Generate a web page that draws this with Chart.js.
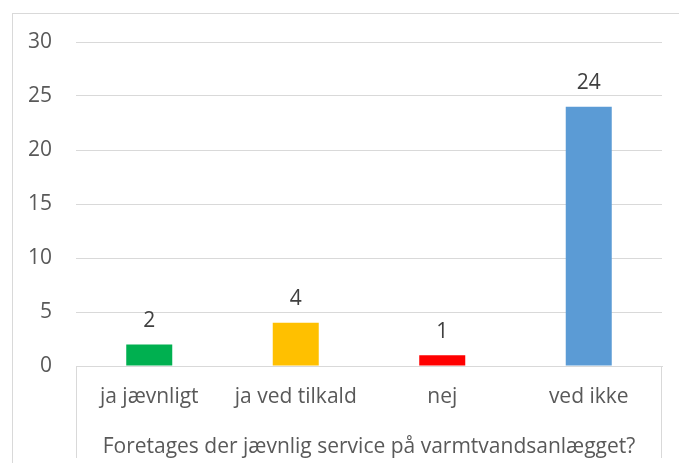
<!DOCTYPE html>
<html>
<head>
<meta charset="utf-8">
<script src="https://cdn.jsdelivr.net/npm/chart.js@4"></script>
<style>
  html, body { margin: 0; padding: 0; background: #fff; overflow: hidden; }
  #wrap { position: relative; width: 679px; height: 463px; }
  #frame { position: absolute; left: 12px; top: 13px; width: 720px; height: 500px; border: 1px solid #d9d9d9; box-sizing: border-box; }
  canvas { position: absolute; left: 0; top: 0; }
</style>
</head>
<body>
<div id="wrap">
  <div id="frame"></div>
  <canvas id="chart" width="679" height="463"></canvas>
</div>
<script>
// data
const categories = ['ja jævnligt', 'ja ved tilkald', 'nej', 'ved ikke'];
const counts = [2, 4, 1, 24];
const barColors = ['#00B050', '#FFC000', '#FF0000', '#5B9BD5'];
const axisTitle = 'Foretages der jævnlig service på varmtvandsanlægget?';
const yMax = 30;
const yStep = 5;

const FONT = "'Open Sans', sans-serif";

// labels over the bars, plus the box lines under the category axis
const extras = {
  id: 'extras',
  afterDatasetsDraw(chart) {
    const ctx = chart.ctx;
    const meta = chart.getDatasetMeta(0);
    ctx.save();
    ctx.fillStyle = '#404040';
    ctx.font = '21px ' + FONT;
    ctx.textAlign = 'center';
    ctx.textBaseline = 'bottom';
    meta.data.forEach((bar, i) => {
      ctx.fillText(String(counts[i]), bar.x, bar.y - 13);
    });
    ctx.restore();
  },
  afterDraw(chart) {
    const ctx = chart.ctx;
    const a = chart.chartArea;
    ctx.save();
    ctx.strokeStyle = '#d9d9d9';
    ctx.lineWidth = 1;
    ctx.beginPath();
    ctx.moveTo(a.left + 0.5, a.bottom);
    ctx.lineTo(a.left + 0.5, 458);
    ctx.moveTo(a.right - 0.5, a.bottom);
    ctx.lineTo(a.right - 0.5, 458);
    ctx.stroke();
    ctx.restore();
  }
};

new Chart(document.getElementById('chart').getContext('2d'), {
  type: 'bar',
  data: {
    labels: categories,
    datasets: [{
      data: counts,
      backgroundColor: barColors,
      borderWidth: 0,
      categoryPercentage: 1,
      barPercentage: 0.314
    }]
  },
  options: {
    responsive: false,
    animation: false,
    layout: { padding: { top: 42, right: 17, bottom: 0, left: 0 } },
    plugins: { legend: { display: false }, tooltip: { enabled: false } },
    scales: {
      x: {
        grid: { display: false, drawTicks: false },
        border: { color: '#d9d9d9', width: 1 },
        ticks: { color: '#595959', font: { family: FONT, size: 21 }, padding: 18, maxRotation: 0 },
        title: {
          display: true,
          text: axisTitle,
          color: '#595959',
          font: { family: FONT, size: 21 },
          padding: { top: 4, bottom: 3 }
        },
        afterFit(scale) { scale.height = 97; }
      },
      y: {
        min: 0,
        max: yMax,
        grid: { color: '#d9d9d9', drawTicks: false },
        border: { display: false },
        ticks: { stepSize: yStep, color: '#595959', font: { family: FONT, size: 21 }, padding: 24 },
        afterFit(scale) { scale.width = 76; }
      }
    }
  },
  plugins: [extras]
});
</script>
</body>
</html>
